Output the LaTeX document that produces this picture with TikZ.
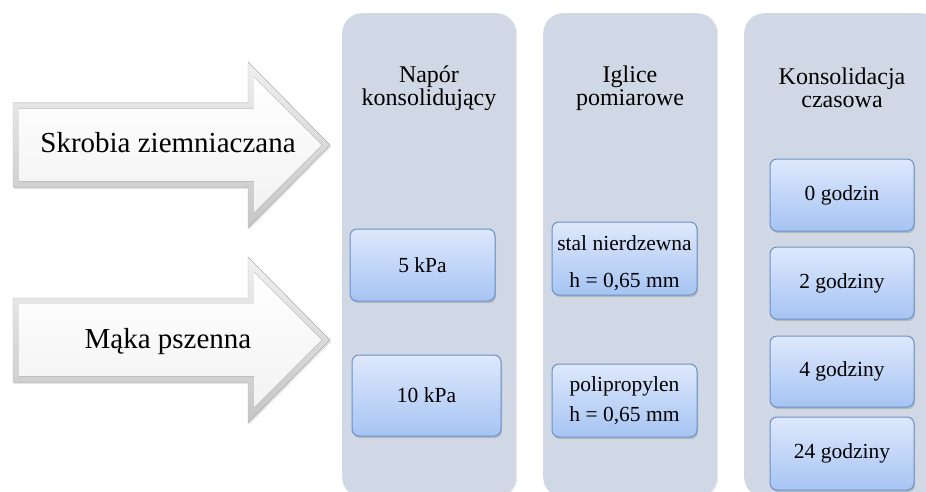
\documentclass[tikz,border=0pt]{standalone}
\usepackage{fontspec}
\setmainfont{Liberation Serif}
\usepackage{tikz}
\usetikzlibrary{positioning,shadows,calc}
\definecolor{colbg}{HTML}{D1D8E5}
\definecolor{boxtop}{HTML}{DEE8FC}
\definecolor{boxbot}{HTML}{A6C4F3}
\definecolor{boxline}{HTML}{6A91C9}
\tikzset{every picture/.style={x=1pt,y=-1pt}}
\tikzset{column/.style={fill=colbg,rounded corners=20pt,inner sep=0pt,
    drop shadow={opacity=0.15,shadow xshift=1pt,shadow yshift=-1pt}}}
\tikzset{coltitle/.style={align=center,font=\fontsize{24}{23}\selectfont}}
\tikzset{valbox/.style={draw=boxline,line width=1pt,rounded corners=7pt,
    top color=boxtop,bottom color=boxbot,inner sep=0pt,align=center,
    minimum width=145pt,minimum height=72pt,font=\fontsize{21.5}{30}\selectfont,
    drop shadow={opacity=0.35,shadow xshift=1pt,shadow yshift=-2pt}}}
\tikzset{arrowrim/.style={top color=gray!12,bottom color=gray!45,draw=gray!55,
    drop shadow={opacity=0.2,shadow xshift=1pt,shadow yshift=-2pt}}}
\tikzset{arrowface/.style={top color=white,bottom color=gray!10}}
\tikzset{arrowtext/.style={font=\fontsize{29}{34}\selectfont}}

\begin{document}
\begin{tikzpicture}
  \useasboundingbox (0,0) rectangle (926,492);
  % columns
  \node[column,anchor=north west,minimum width=174pt,minimum height=484pt] (col-napor) at (342,13) {};
  \node[column,anchor=north west,minimum width=174pt,minimum height=484pt] (col-iglice) at (543,13) {};
  \node[column,anchor=north west,minimum width=196pt,minimum height=484pt] (col-czas) at (744,13) {};
  \node[coltitle] (t-napor) at (429,88) {Napór\\konsolidujący};
  \node[coltitle] (t-iglice) at (630,88) {Iglice\\pomiarowe};
  \node[coltitle] (t-czas) at (842,88) {Konsolidacja\\czasowa};
  % arrows
  \foreach \dy/\txt/\nm in {0/Skrobia ziemniaczana/skrobia,195/Mąka pszenna/maka}{
    \begin{scope}[shift={(0,\dy)}]
      \fill[arrowrim] (13,103) -- (248,103) -- (248,62) -- (330,145) -- (248,228) -- (248,187) -- (13,187) -- cycle;
      \fill[arrowface] (19,109) -- (254,109) -- (254,77) -- (322,145) -- (254,213) -- (254,181) -- (19,181) -- cycle;
      \node[arrowtext,anchor=base] (\nm) at (168,153) {\txt};
    \end{scope}
  }
  % values
  \node[valbox] (p5) at (422.5,265) {5 kPa};
  \node[valbox,minimum width=149pt,minimum height=81pt] (p10) at (426.5,395.5) {10 kPa};
  \node[valbox,minimum height=73pt] (stal) at (624.5,258.5) {};
  \node[align=center,font=\fontsize{21.5}{30}\selectfont] (stal-txt) at (624.5,263) {stal nierdzewna\\[7pt]h = 0,65 mm};
  \node[valbox,minimum height=73pt] (poli) at (624.5,400.5) {polipropylen\\h = 0,65 mm};
  \node[valbox,minimum width=144pt] (g0) at (842,195) {0 godzin};
  \node[valbox,minimum width=144pt] (g2) at (842,283) {2 godziny};
  \node[valbox,minimum width=144pt,minimum height=71pt] (g4) at (842,371.5) {4 godziny};
  \node[valbox,minimum width=144pt,minimum height=73pt] (g24) at (842,453.5) {24 godziny};
\end{tikzpicture}
\end{document}
